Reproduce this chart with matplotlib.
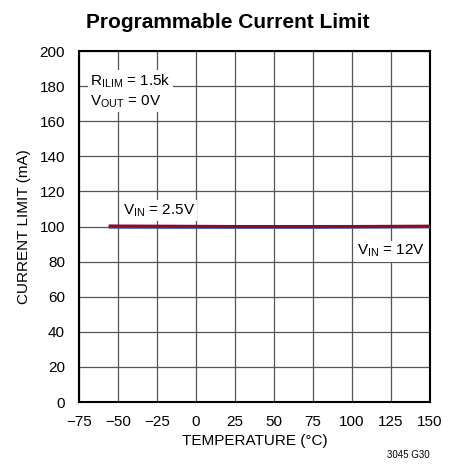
import matplotlib.pyplot as plt
import numpy as np

# data
temp = [-55, 0, 25, 50, 75, 100, 125, 150]
ilim_vin25 = [100.3, 100.1, 100.0, 100.0, 100.0, 100.0, 100.1, 100.2]
ilim_vin12 = [99.6, 99.5, 99.5, 99.5, 99.5, 99.6, 99.7, 99.8]
xticks = [-75, -50, -25, 0, 25, 50, 75, 100, 125, 150]
yticks = [0, 20, 40, 60, 80, 100, 120, 140, 160, 180, 200]

plt.rcParams['font.family'] = ['Liberation Sans', 'DejaVu Sans']

fig = plt.figure(figsize=(4.61, 4.73), dpi=100)
ax = fig.add_axes([79/461, 1 - 402/473, 351/461, 351/473])

ax.plot(temp, ilim_vin12, color='#3a5aa8', lw=2.2, zorder=3)
ax.plot(temp, ilim_vin25, color='#8c0a2c', lw=2.2, zorder=4)

ax.set_xlim(-75, 150)
ax.set_ylim(0, 200)
ax.set_xticks(xticks)
ax.set_yticks(yticks)
ax.set_xticklabels(['\u221275', '\u221250', '\u221225', '0', '25', '50', '75', '100', '125', '150'])
ax.grid(True, color='#555555', lw=0.9)
ax.tick_params(axis='x', length=0, labelsize=11, pad=9)
ax.tick_params(axis='y', length=0, labelsize=11, pad=10)
for s in ax.spines.values():
    s.set_linewidth(1.5)

ax.set_xlabel('TEMPERATURE (\u00b0C)', fontsize=11, labelpad=4)
ax.set_ylabel('CURRENT LIMIT (mA)', fontsize=11, labelpad=6)
fig.text(228/461, 1 - 22/473, 'Programmable Current Limit', ha='center', va='center',
         fontsize=15, fontweight='bold')

box = dict(facecolor='white', edgecolor='none', pad=1.5)
ax.text(-68, 183, r'R$_{\mathregular{ILIM}}$ = 1.5k', fontsize=11, va='center', bbox=box, zorder=5)
ax.text(-68, 171, r'V$_{\mathregular{OUT}}$ = 0V', fontsize=11, va='center', bbox=box, zorder=5)
ax.text(-47, 109, r'V$_{\mathregular{IN}}$ = 2.5V', fontsize=11, va='center', bbox=box, zorder=5)
ax.text(103, 86, r'V$_{\mathregular{IN}}$ = 12V', fontsize=11, va='center', bbox=box, zorder=5)

fig.text(430/461, 1 - 455/473, '3045 G30', ha='right', va='center', fontsize=7)

fig.savefig('out.png', dpi=100)
